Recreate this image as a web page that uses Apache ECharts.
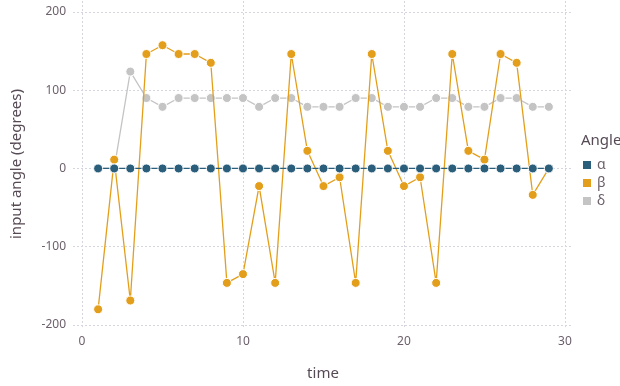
<!DOCTYPE html>
<html><head><meta charset="utf-8">
<script src="https://cdn.jsdelivr.net/npm/echarts@6/dist/echarts.min.js"></script>
<style>html,body{margin:0;padding:0;background:#fff}#c{width:620px;height:386px}</style>
</head><body><div id="c"></div>
<script>
const time = [1,2,3,4,5,6,7,8,9,10,11,12,13,14,15,16,17,18,19,20,21,22,23,24,25,26,27,28,29];
const alpha = [0,0,0,0,0,0,0,0,0,0,0,0,0,0,0,0,0,0,0,0,0,0,0,0,0,0,0,0,0];
const beta = [-180,11.25,-168.75,146.25,157.5,146.25,146.25,135,-146.25,-135,-22.5,-146.25,146.25,22.5,-22.5,-11.25,-146.25,146.25,22.5,-22.5,-11.25,-146.25,146.25,22.5,11.25,146.25,135,-33.75,0];
const delta = [0,0,123.75,90,78.75,90,90,90,90,90,78.75,90,90,78.75,78.75,78.75,90,90,78.75,78.75,78.75,90,90,78.75,78.75,90,90,78.75,78.75];
const xTicks = [0,10,20,30];
const yTicks = [-200,-100,0,100,200];
const seriesNames = ['α','β','δ'];
const colors = ['#2b5e7b','#e39f1c','#c4c4c4'];

const font = '"Noto Sans", "Open Sans", sans-serif';
const chart = echarts.init(document.getElementById('c'), null, {renderer:'canvas'});
function mk(name, vals, color, z){
  return {name, type:'line', data: time.map((t,i)=>[t, vals[i]]), z,
    symbol:'circle', symbolSize:9, showSymbol:true,
    lineStyle:{color, width:1.3},
    itemStyle:{color, borderColor:'#fff', borderWidth:1},
    emphasis:{disabled:true}, animation:false};
}
const grid = {left:73, right:47, top:1, bottom:59, containLabel:false, outerBoundsMode:'none'};
const splitLine = {show:true, lineStyle:{color:'#d6d6e0', type:[2,2], width:1}};
chart.setOption({
  animation:false,
  grid,
  title:{text:'Angle', left:576, top:128, textStyle:{fontFamily:font, fontSize:15, fontWeight:'normal', color:'#564a55'}},
  legend:{orient:'vertical', left:576, top:153, itemWidth:10, itemHeight:10, itemGap:4, icon:'rect',
    data:seriesNames, textStyle:{fontFamily:font, fontSize:14, color:'#6c606b'}},
  xAxis:{type:'value', min:-0.56, max:30.5, name:'time', nameLocation:'middle', nameGap:39,
    nameTextStyle:{fontFamily:font, fontSize:15, color:'#564a55'},
    axisLine:{show:false}, axisTick:{show:false, customValues:xTicks},
    axisLabel:{customValues:xTicks, fontFamily:font, fontSize:12, color:'#6c606b', margin:9},
    splitLine},
  yAxis:{type:'value', min:-202.6, max:214, name:'input angle (degrees)', nameLocation:'middle', nameGap:49,
    nameTextStyle:{fontFamily:font, fontSize:15, color:'#564a55'},
    axisLine:{show:false}, axisTick:{show:false, customValues:yTicks},
    axisLabel:{customValues:yTicks, fontFamily:font, fontSize:12, color:'#6c606b', margin:7},
    splitLine},
  series:[mk('δ', delta, colors[2], 2), mk('β', beta, colors[1], 3), mk('α', alpha, colors[0], 4)]
});
</script></body></html>
